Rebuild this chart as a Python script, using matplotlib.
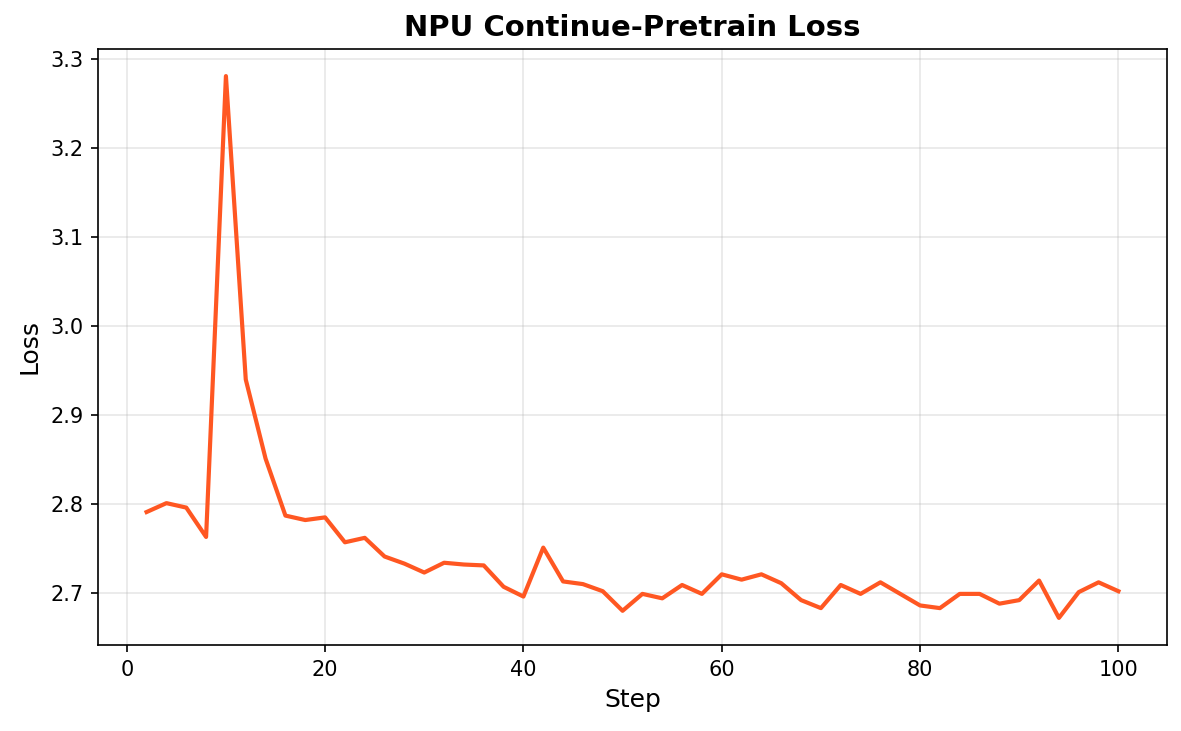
import matplotlib
matplotlib.use("Agg")
import matplotlib.pyplot as plt

steps = list(range(2, 101, 2))
loss = [2.791, 2.801, 2.796, 2.763, 3.281, 2.940, 2.851, 2.787, 2.782, 2.785,
        2.757, 2.762, 2.741, 2.733, 2.723, 2.734, 2.732, 2.731, 2.707, 2.696,
        2.751, 2.713, 2.710, 2.702, 2.680, 2.699, 2.694, 2.709, 2.699, 2.721,
        2.715, 2.721, 2.711, 2.692, 2.683, 2.709, 2.699, 2.712, 2.699, 2.686,
        2.683, 2.699, 2.699, 2.688, 2.692, 2.714, 2.672, 2.701, 2.712, 2.702]

fig = plt.figure(figsize=(1181/150, 731/150), dpi=150)
ax = fig.add_axes([98/1181, 1-645/731, (1167-98)/1181, (645-49)/731])
ax.plot(steps, loss, color="#FF5722", linewidth=2)
ax.set_title("NPU Continue-Pretrain Loss", fontsize=14, fontweight="bold")
ax.set_xlabel("Step", fontsize=12)
ax.set_ylabel("Loss", fontsize=12)
ax.grid(True, alpha=0.3)
fig.savefig("out.png", dpi=150)
